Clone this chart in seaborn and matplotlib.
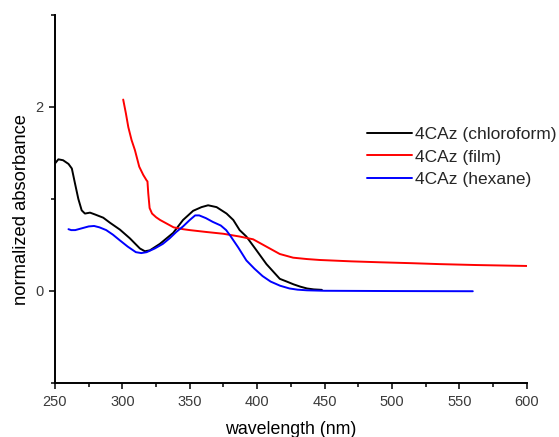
import matplotlib
matplotlib.use("Agg")
import matplotlib.pyplot as plt
from matplotlib.ticker import FixedLocator
import seaborn as sns
import pandas as pd

# Absorption spectra of 4CAz (normalized)
chloroform_nm = [250, 252.5, 256, 260, 262.5, 264.8, 267.3, 269.8, 272.2, 276, 279.7,
                 285.8, 290.8, 298.2, 305.6, 313, 316.7, 320.4, 327.8, 337.7, 345,
                 352.5, 358.7, 363.6, 369.9, 377.3, 382.3, 387, 392, 399.5, 406.9,
                 416.8, 422, 427, 432, 437, 442, 448]
chloroform_abs = [1.385, 1.43, 1.42, 1.38, 1.33, 1.17, 1.0, 0.875, 0.84, 0.85, 0.83,
                  0.795, 0.74, 0.665, 0.57, 0.46, 0.43, 0.44, 0.51, 0.63, 0.77,
                  0.87, 0.91, 0.93, 0.91, 0.84, 0.77, 0.66, 0.59, 0.44, 0.29,
                  0.13, 0.10, 0.07, 0.045, 0.025, 0.015, 0.01]

film_nm = [300.6, 302.6, 304.4, 306.8, 309.3, 312.5, 315.5, 318, 318.6, 319.2, 320.2,
           322, 325, 328, 333, 338, 345, 350, 362, 375, 387, 397, 406.9, 416.8,
           426.7, 437, 446.4, 470, 491, 515, 535.4, 562.6, 600]
film_abs = [2.08, 1.93, 1.78, 1.64, 1.53, 1.35, 1.26, 1.20, 1.19, 1.06, 0.90,
            0.84, 0.80, 0.77, 0.73, 0.69, 0.67, 0.66, 0.64, 0.62, 0.59, 0.56, 0.48, 0.40,
            0.36, 0.345, 0.335, 0.32, 0.31, 0.30, 0.29, 0.28, 0.27]

hexane_nm = [260, 262, 265, 270, 275, 279, 283, 288, 293, 298, 304, 310, 314, 318,
             324, 330, 335, 340, 345, 350, 354, 357, 362, 367, 373, 377, 380, 386,
             392, 398, 404, 410, 417, 424, 430, 437, 450, 500, 560]
hexane_abs = [0.67, 0.66, 0.66, 0.68, 0.70, 0.705, 0.69, 0.66, 0.61, 0.55, 0.48, 0.42,
              0.41, 0.42, 0.46, 0.51, 0.57, 0.64, 0.70, 0.77, 0.82, 0.82, 0.79, 0.75,
              0.71, 0.66, 0.60, 0.47, 0.33, 0.24, 0.16, 0.10, 0.055, 0.025, 0.012,
              0.005, 0.0, -0.003, -0.005]

series = [
    ("4CAz (chloroform)", chloroform_nm, chloroform_abs, "#000000"),
    ("4CAz (film)", film_nm, film_abs, "#ff0000"),
    ("4CAz (hexane)", hexane_nm, hexane_abs, "#0000ff"),
]

sns.set_theme(style="white")
plt.rcParams["font.family"] = ["Liberation Sans", "DejaVu Sans"]

fig = plt.figure(figsize=(5.59, 4.37), dpi=100)
ax = fig.add_axes([55 / 559, 1 - 382.7 / 437, 471.7 / 559, 367.7 / 437])

for name, x, y, color in series:
    df = pd.DataFrame({"wavelength": x, "absorbance": y})
    sns.lineplot(data=df, x="wavelength", y="absorbance", ax=ax, color=color,
                 linewidth=1.4, label=name, estimator=None, sort=False)

ax.set_xlim(250, 600)
ax.set_ylim(-1, 3)
ax.set_xticks([250, 300, 350, 400, 450, 500, 550, 600])
ax.xaxis.set_minor_locator(FixedLocator([275, 325, 375, 425, 475, 525, 575]))
ax.set_yticks([0, 2])
ax.set_yticklabels(["0", "2"])
ax.yaxis.set_minor_locator(FixedLocator([-1, 1, 3]))

for side in ("top", "right"):
    ax.spines[side].set_visible(False)
for side in ("left", "bottom"):
    ax.spines[side].set_color("black")
    ax.spines[side].set_linewidth(1.4)

ax.tick_params(which="major", direction="out", length=4.5, width=1.1, color="black",
               labelsize=10.5, labelcolor="#3a3a3a", pad=4, left=True, bottom=True)
ax.tick_params(which="minor", direction="out", length=3, width=1.1, color="black",
               left=True, bottom=True)

ax.set_xlabel("wavelength (nm)", fontsize=12.8, color="black")
ax.set_ylabel("normalized absorbance", fontsize=13.2, color="black")
ax.xaxis.set_label_coords(0.5, -0.104)
ax.yaxis.set_label_coords(-0.053, 0.47)

ax.legend(loc="upper left", bbox_to_anchor=(0.661, 0.695), frameon=False,
          borderpad=0, borderaxespad=0, handlelength=2.6, handletextpad=0.15,
          labelspacing=0.41, fontsize=12.5)

fig.savefig("out.png", dpi=100)
